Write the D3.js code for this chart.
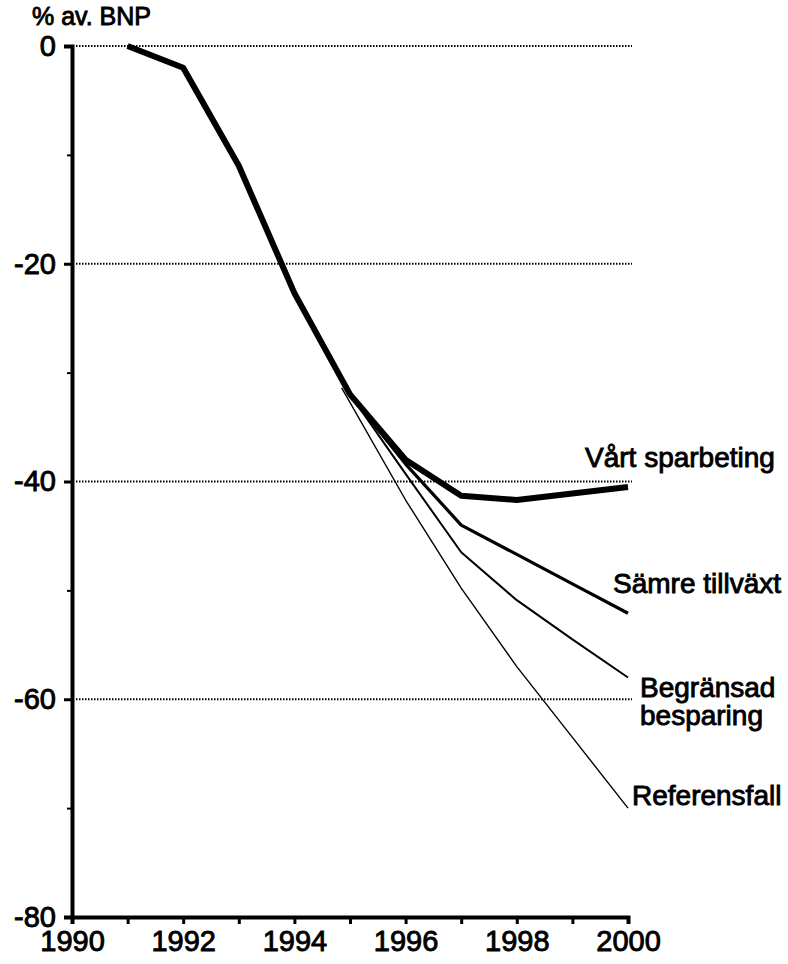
<!DOCTYPE html>
<html>
<head>
<meta charset="utf-8">
<script src="https://cdn.jsdelivr.net/npm/d3@7"></script>
<style>
  body { margin: 0; background: #fff; }
  svg text { font-family: "Liberation Sans", Arial, sans-serif; fill: #000; stroke: #000; stroke-width: 0.9px; }
</style>
</head>
<body>
<div id="chart"></div>
<script>
// data: [year, % av. BNP]
var sparbeting = [[1991, 0], [1992, -2], [1993, -11], [1994, -22.7], [1995, -32], [1996, -38], [1997, -41.3], [1998, -41.7], [1999, -41.1], [2000, -40.5]];
var samreTillvaxt = [[1995, -32], [1996, -38.4], [1997, -44], [1998, -46.7], [1999, -49.4], [2000, -52.1]];
var begransad = [[1995, -32], [1996, -39.3], [1997, -46.5], [1998, -50.9], [1999, -54.5], [2000, -58]];
var referensfall = [[1994.85, -31.4], [1996, -41.7], [1997, -49.8], [1998, -57], [1999, -63.5], [2000, -70]];

var xTicks = [1990, 1992, 1994, 1996, 1998, 2000];
var xMinor = [1991, 1993, 1995, 1997, 1999];
var yTicks = [0, -20, -40, -60, -80];
var yMinor = [-10, -30, -50, -70];
var gridValues = [0, -20, -40, -60];

var series = [
  { name: ["Vårt sparbeting"], data: sparbeting, width: 6, lx: 585, ly: 467 },
  { name: ["Sämre tillväxt"], data: samreTillvaxt, width: 3.2, lx: 613, ly: 593 },
  { name: ["Begränsad", "besparing"], data: begransad, width: 2, lx: 640, ly: 697 },
  { name: ["Referensfall"], data: referensfall, width: 1.4, lx: 632, ly: 805 }
];

var width = 788, height = 964;

var x = d3.scaleLinear().domain([1990, 2000]).range([72, 628]);
var y = d3.scaleLinear().domain([0, -80]).range([46, 917]);

var svg = d3.select("#chart").append("svg")
    .attr("width", width)
    .attr("height", height);

// dotted grid lines
svg.selectAll(".grid")
    .data(gridValues)
  .enter().append("line")
    .attr("class", "grid")
    .attr("x1", x(1990) + 4)
    .attr("x2", x(2000) + 4)
    .attr("y1", function(d) { return y(d); })
    .attr("y2", function(d) { return y(d); })
    .attr("stroke", "#000")
    .attr("stroke-width", 2)
    .attr("stroke-dasharray", "1.5,1.5");

// y axis
var yAxis = d3.axisLeft(y).tickValues(yTicks).tickSize(8).tickPadding(8)
    .tickFormat(function(d) { return d < 0 ? "-" + Math.abs(d) : d; });
var gy = svg.append("g").attr("transform", "translate(" + x(1990) + ",0)").call(yAxis);
gy.select(".domain").attr("stroke-width", 4);
gy.selectAll(".tick line").attr("stroke-width", 3);
gy.selectAll(".tick text").attr("font-size", 29).attr("font-family", null);

svg.append("g").attr("transform", "translate(" + x(1990) + ",0)")
    .call(d3.axisLeft(y).tickValues(yMinor).tickSize(5).tickFormat(""))
    .call(function(g) { g.select(".domain").remove(); })
    .selectAll(".tick line").attr("stroke-width", 2);

// x axis
var xAxis = d3.axisBottom(x).tickValues(xTicks).tickSize(7).tickPadding(6)
    .tickFormat(d3.format("d"));
var gx = svg.append("g").attr("transform", "translate(0," + y(-80) + ")").call(xAxis);
gx.select(".domain").attr("stroke-width", 4);
gx.selectAll(".tick line").attr("stroke-width", 3);
gx.selectAll(".tick text").attr("font-size", 29).attr("font-family", null);

svg.append("g").attr("transform", "translate(0," + y(-80) + ")")
    .call(d3.axisBottom(x).tickValues(xMinor).tickSize(7).tickFormat(""))
    .call(function(g) { g.select(".domain").remove(); })
    .selectAll(".tick line").attr("stroke-width", 3);

// unit title
svg.append("text")
    .attr("x", 32)
    .attr("y", 25)
    .attr("font-size", 25)
    .text("% av. BNP");

// series lines
var line = d3.line()
    .x(function(d) { return x(d[0]); })
    .y(function(d) { return y(d[1]); });

svg.selectAll(".series")
    .data(series.slice().reverse())
  .enter().append("path")
    .attr("class", "series")
    .attr("fill", "none")
    .attr("stroke", "#000")
    .attr("stroke-linejoin", "round")
    .attr("stroke-width", function(d) { return d.width; })
    .attr("d", function(d) { return line(d.data); });

// labels at line ends
var labels = svg.selectAll(".label")
    .data(series)
  .enter().append("text")
    .attr("class", "label")
    .attr("font-size", 28)
    .attr("x", function(d) { return d.lx; })
    .attr("y", function(d) { return d.ly; });

labels.selectAll("tspan")
    .data(function(d) { return d.name.map(function(n, i) { return { n: n, x: d.lx, i: i }; }); })
  .enter().append("tspan")
    .attr("x", function(d) { return d.x; })
    .attr("dy", function(d) { return d.i ? 28 : 0; })
    .text(function(d) { return d.n; });
</script>
</body>
</html>
